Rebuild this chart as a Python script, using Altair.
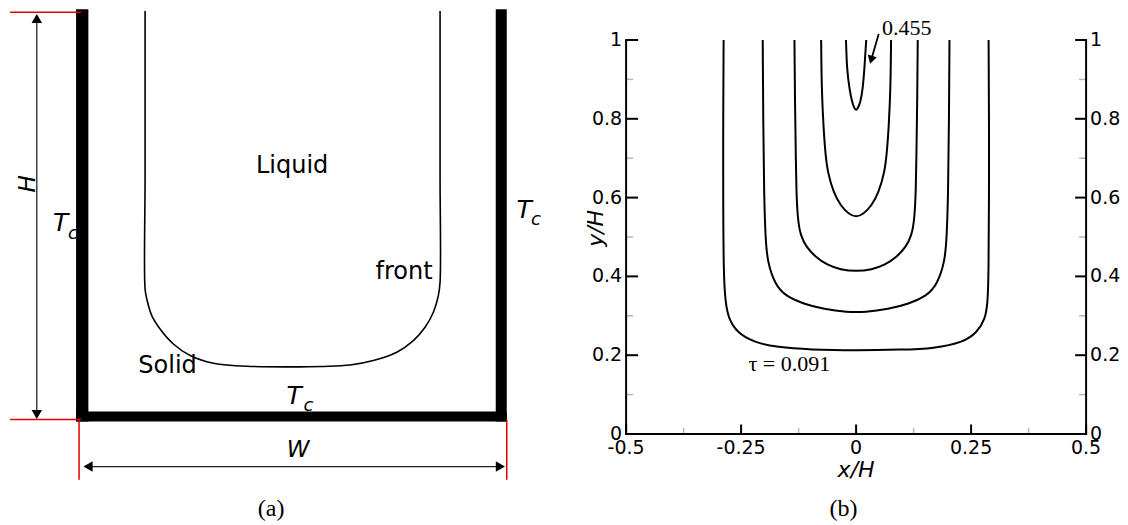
import altair as alt
import pandas as pd

# ===================== Panel (a): schematic (x in units of W, y in units of H) =====================
A_XDOM = [-0.16, 1.12]
A_YDOM = [-0.0336, 0.9321]
A_WIDTH = 548.7
A_HEIGHT = 394

WALL_U0 = [-0.0047, 0.9743, -0.0047]
WALL_U1 = [0.0240, 1.0000, 1.0000]
WALL_V0 = [-0.003, -0.003, -0.003]
WALL_V1 = [1.0074, 1.0074, 0.0213]

RED_U0 = [-0.1586, -0.1586, 0.0023, 1.0]
RED_U1 = [0.007, 0.007, 0.0023, 1.0]
RED_V0 = [1.0, 0.0017, 0.0017, 0.0017]
RED_V1 = [1.0, 0.0017, -0.1458, -0.1458]

H_ARROW_U = [-0.0963, -0.0963]
H_ARROW_V = [0.0142, 0.9848]
W_ARROW_U = [0.0233, 0.9851]
W_ARROW_V = [-0.1135, -0.1135]

FRONT_U = [0.1563, 0.1563, 0.1563, 0.1603, 0.1719, 0.1913, 0.2223, 0.2613, 0.3156, 0.3935,
           0.6345, 0.6888, 0.7434, 0.7821, 0.8094, 0.8288, 0.8404, 0.8444, 0.8444, 0.8444]
FRONT_V = [1.003, 0.60, 0.3218, 0.2973, 0.2566, 0.2238, 0.1870, 0.1586, 0.1397, 0.1324,
           0.1355, 0.1463, 0.1667, 0.1953, 0.2279, 0.2647, 0.3056, 0.3382, 0.60, 1.003]

REGION_TEXT = ["Liquid", "front", "Solid"]
REGION_U = [0.4992, 0.7604, 0.2088]
REGION_V = [0.6225, 0.3627, 0.1324]

TC_TEXT = ["T", "T", "T"]
TC_U = [-0.0405, 1.0407, 0.5042]
TC_V = [0.4830, 0.5160, 0.0590]
SUB_TEXT = ["c", "c", "c"]
SUB_U = [-0.0120, 1.0680, 0.5373]
SUB_V = [0.4554, 0.4897, 0.0339]

W_TEXT = ["W"]
W_U = [0.5132]
W_V = [-0.0720]
H_TEXT = ["H"]
H_U = [-0.1180]
H_V = [0.5792]

CAP_A = ["(a)"]
CAP_A_U = [0.4502]
CAP_A_V = [-0.2181]

# ===================== Panel (b): temperature contours =====================
B_XDOM = [-0.5, 0.5]
B_YDOM = [0.0, 1.0]
B_WIDTH = 460
B_HEIGHT = 394
X_TICKS = [-0.5, -0.25, 0, 0.25, 0.5]
X_MINOR = [-0.375, -0.125, 0.125, 0.375]
Y_TICKS = [0, 0.2, 0.4, 0.6, 0.8, 1]
Y_MINOR = [0.1, 0.3, 0.5, 0.7, 0.9]

FRAME_X0 = [-0.5, 0.5, -0.5]
FRAME_X1 = [-0.5, 0.5, 0.5]
FRAME_Y0 = [0.0, 0.0, 0.0]
FRAME_Y1 = [1.0, 1.0, 0.0]

C1_X = [-0.288, -0.289, -0.289, -0.288, -0.284, -0.277, -0.259, -0.223, -0.172, -0.100, 0.000,
        0.100, 0.169, 0.234, 0.263, 0.281, 0.286, 0.288, 0.289, 0.289, 0.288]
C1_Y = [1.000, 0.800, 0.600, 0.400, 0.334, 0.292, 0.258, 0.233, 0.220, 0.214, 0.212,
        0.214, 0.217, 0.233, 0.258, 0.292, 0.334, 0.400, 0.600, 0.800, 1.000]
C2_X = [-0.203, -0.202, -0.200, -0.197, -0.193, -0.175, -0.154, -0.114, -0.070, -0.020,
        0.020, 0.070, 0.114, 0.154, 0.175, 0.193, 0.197, 0.200, 0.202, 0.203]
C2_Y = [1.000, 0.800, 0.600, 0.500, 0.436, 0.377, 0.351, 0.330, 0.317, 0.309,
        0.309, 0.317, 0.330, 0.351, 0.377, 0.436, 0.500, 0.600, 0.800, 1.000]
C3_X = [-0.134, -0.133, -0.131, -0.130, -0.127, -0.121, -0.108, -0.088, -0.063, -0.034, 0.000,
        0.034, 0.063, 0.088, 0.108, 0.121, 0.127, 0.130, 0.131, 0.133, 0.134]
C3_Y = [1.000, 0.850, 0.700, 0.620, 0.546, 0.504, 0.474, 0.449, 0.429, 0.417, 0.413,
        0.417, 0.429, 0.449, 0.474, 0.504, 0.546, 0.620, 0.700, 0.850, 1.000]
C4_X = [-0.076, -0.075, -0.071, -0.067, -0.062, -0.049, -0.034, -0.016, 0.000,
        0.016, 0.034, 0.049, 0.062, 0.067, 0.071, 0.075, 0.076]
C4_Y = [1.000, 0.880, 0.780, 0.715, 0.664, 0.613, 0.580, 0.558, 0.550,
        0.558, 0.580, 0.613, 0.664, 0.715, 0.780, 0.880, 1.000]
C5_X = [-0.022, -0.020, -0.0145, -0.0087, -0.004, 0.000, 0.004, 0.0094, 0.0145, 0.018, 0.022]
C5_Y = [1.000, 0.926, 0.876, 0.842, 0.827, 0.821, 0.827, 0.842, 0.876, 0.926, 1.000]

NOTE_TEXT = ["0.455", "τ = 0.091"]
NOTE_X = [0.110, -0.145]
NOTE_Y = [1.031, 0.177]
ARROW_X = [0.0491, 0.0340]
ARROW_Y = [1.0152, 0.9540]
HEAD_X = [0.0336]
HEAD_Y = [0.9530]

X_TITLE = ["x/H"]
Y_TITLE = ["y/H"]
Y_TITLE_X = [-0.5646]
Y_TITLE_Y = [0.522]

CAP_B = ["(b)"]
CAP_B_X = [-0.0276]
CAP_B_Y = [-0.191]

SANS = "DejaVu Sans"
SERIF = "Liberation Serif"
RED = "#e00000"
MINOR_GREY = "#b5b5b5"

# ---------------- helpers ----------------
def ax_a(f):
    return alt.X(f, type="quantitative", axis=None,
                 scale=alt.Scale(domain=A_XDOM, nice=False, zero=False))

def ay_a(f):
    return alt.Y(f, type="quantitative", axis=None,
                 scale=alt.Scale(domain=A_YDOM, nice=False, zero=False))

def bx(f):
    return alt.X(f, type="quantitative", axis=None,
                 scale=alt.Scale(domain=B_XDOM, nice=False, zero=False))

def by(f):
    return alt.Y(f, type="quantitative", axis=None,
                 scale=alt.Scale(domain=B_YDOM, nice=False, zero=False))

def fmt(v):
    return f"{v:g}"

# ---------------- panel (a) ----------------
walls = alt.Chart(pd.DataFrame({"u0": WALL_U0, "u1": WALL_U1, "v0": WALL_V0, "v1": WALL_V1})).mark_rect(
    color="black").encode(x=ax_a("u0"), x2="u1", y=ay_a("v0"), y2="v1")

reds = alt.Chart(pd.DataFrame({"u0": RED_U0, "u1": RED_U1, "v0": RED_V0, "v1": RED_V1})).mark_rule(
    color=RED, strokeWidth=1.5).encode(x=ax_a("u0"), x2="u1", y=ay_a("v0"), y2="v1")

h_df = pd.DataFrame({"u": H_ARROW_U, "v": H_ARROW_V})
w_df = pd.DataFrame({"u": W_ARROW_U, "v": W_ARROW_V})
h_line = alt.Chart(h_df).mark_line(color="#222222", strokeWidth=1.3).encode(x=ax_a("u"), y=ay_a("v"))
w_line = alt.Chart(w_df).mark_line(color="#222222", strokeWidth=1.3).encode(x=ax_a("u"), y=ay_a("v"))

def head_a(df, idx, shape):
    return alt.Chart(df.iloc[[idx]]).mark_point(shape=shape, filled=True, size=110, color="black",
                                                opacity=1).encode(x=ax_a("u"), y=ay_a("v"))

heads_a = [head_a(h_df, 0, "triangle-down"), head_a(h_df, 1, "triangle-up"),
           head_a(w_df, 0, "triangle-left"), head_a(w_df, 1, "triangle-right")]

front_df = pd.DataFrame({"u": FRONT_U, "v": FRONT_V, "i": list(range(len(FRONT_U)))})
front = alt.Chart(front_df).mark_line(color="black", strokeWidth=1.6, interpolate="catmull-rom").encode(
    x=ax_a("u"), y=ay_a("v"), order="i:Q")

def text_a(texts, us, vs, **kw):
    df = pd.DataFrame({"t": texts, "u": us, "v": vs})
    return alt.Chart(df).mark_text(align="center", baseline="middle", color="black", **kw).encode(
        x=ax_a("u"), y=ay_a("v"), text="t:N")

regions = text_a(REGION_TEXT, REGION_U, REGION_V, font=SANS, fontSize=24)
tcs = text_a(TC_TEXT, TC_U, TC_V, font=SANS, fontSize=25, fontStyle="italic")
subs = text_a(SUB_TEXT, SUB_U, SUB_V, font=SANS, fontSize=18, fontStyle="italic")
wlab = text_a(W_TEXT, W_U, W_V, font=SANS, fontSize=23, fontStyle="italic")
hlab = text_a(H_TEXT, H_U, H_V, font=SANS, fontSize=23, fontStyle="italic", angle=270)
cap_a = text_a(CAP_A, CAP_A_U, CAP_A_V, font=SERIF, fontSize=24)

panel_a = alt.layer(walls, reds, h_line, w_line, *heads_a, front, regions, tcs, subs, wlab, hlab,
                    cap_a).properties(width=A_WIDTH, height=A_HEIGHT)

# ---------------- panel (b) ----------------
rows = []
for cid, (xs, ys) in enumerate([(C1_X, C1_Y), (C2_X, C2_Y), (C3_X, C3_Y), (C4_X, C4_Y), (C5_X, C5_Y)]):
    for i, (xv, yv) in enumerate(zip(xs, ys)):
        rows.append({"cid": cid, "i": i, "x": xv, "y": yv})
cont_df = pd.DataFrame(rows)

contours = alt.Chart(cont_df).mark_line(color="black", strokeWidth=2, interpolate="basis").encode(
    x=bx("x"), y=by("y"), detail="cid:N", order="i:Q")

frame = alt.Chart(pd.DataFrame({"x0": FRAME_X0, "x1": FRAME_X1, "y0": FRAME_Y0, "y1": FRAME_Y1})).mark_rule(
    color="black", strokeWidth=2, strokeCap="square").encode(x=bx("x0"), x2="x1", y=by("y0"), y2="y1")

# inward ticks (pixel lengths)
yl_major = alt.Chart(pd.DataFrame({"y": Y_TICKS})).mark_rule(color="black", strokeWidth=2).encode(
    y=by("y"), x=alt.value(0), x2=alt.value(12))
yl_minor = alt.Chart(pd.DataFrame({"y": Y_MINOR})).mark_rule(color=MINOR_GREY, strokeWidth=1.5).encode(
    y=by("y"), x=alt.value(0), x2=alt.value(7))
yr_major = alt.Chart(pd.DataFrame({"y": Y_TICKS})).mark_rule(color="black", strokeWidth=2).encode(
    y=by("y"), x=alt.value(B_WIDTH - 11), x2=alt.value(B_WIDTH))
yr_minor = alt.Chart(pd.DataFrame({"y": Y_MINOR})).mark_rule(color=MINOR_GREY, strokeWidth=1.5).encode(
    y=by("y"), x=alt.value(B_WIDTH - 7), x2=alt.value(B_WIDTH))
x_major = alt.Chart(pd.DataFrame({"x": X_TICKS})).mark_rule(color="black", strokeWidth=2).encode(
    x=bx("x"), y=alt.value(B_HEIGHT), y2=alt.value(B_HEIGHT - 9.5))
x_minor = alt.Chart(pd.DataFrame({"x": X_MINOR})).mark_rule(color=MINOR_GREY, strokeWidth=1.5).encode(
    x=bx("x"), y=alt.value(B_HEIGHT), y2=alt.value(B_HEIGHT - 6))

# tick labels
xl_df = pd.DataFrame({"x": X_TICKS, "y": [B_YDOM[0]] * len(X_TICKS), "t": [fmt(v) for v in X_TICKS]})
x_labels = alt.Chart(xl_df).mark_text(font=SANS, fontSize=19, color="black", align="center",
                                      baseline="middle", dy=14).encode(x=bx("x"), y=by("y"), text="t:N")
yl_df = pd.DataFrame({"x": [B_XDOM[0]] * len(Y_TICKS), "y": Y_TICKS, "t": [fmt(v) for v in Y_TICKS]})
yl_labels = alt.Chart(yl_df).mark_text(font=SANS, fontSize=19, color="black", align="right",
                                       baseline="middle", dx=-4).encode(x=bx("x"), y=by("y"), text="t:N")
yr_df = pd.DataFrame({"x": [B_XDOM[1]] * len(Y_TICKS), "y": Y_TICKS, "t": [fmt(v) for v in Y_TICKS]})
yr_labels = alt.Chart(yr_df).mark_text(font=SANS, fontSize=19, color="black", align="left",
                                       baseline="middle", dx=4).encode(x=bx("x"), y=by("y"), text="t:N")

# axis titles
xt_df = pd.DataFrame({"x": [sum(B_XDOM) / 2], "y": [B_YDOM[0]], "t": X_TITLE})
x_title = alt.Chart(xt_df).mark_text(font=SANS, fontSize=22, fontStyle="italic", color="black",
                                     align="center", baseline="middle", dy=36).encode(
    x=bx("x"), y=by("y"), text="t:N")
yt_df = pd.DataFrame({"x": Y_TITLE_X, "y": Y_TITLE_Y, "t": Y_TITLE})
y_title = alt.Chart(yt_df).mark_text(font=SANS, fontSize=22, fontStyle="italic", color="black",
                                     align="center", baseline="middle", angle=270).encode(
    x=bx("x"), y=by("y"), text="t:N")

arrow_line = alt.Chart(pd.DataFrame({"x": ARROW_X, "y": ARROW_Y})).mark_line(
    color="black", strokeWidth=1.8).encode(x=bx("x"), y=by("y"))
arrow_head = alt.Chart(pd.DataFrame({"x": HEAD_X, "y": HEAD_Y})).mark_point(
    shape="triangle", angle=196, size=90, filled=True, color="black", opacity=1).encode(
    x=bx("x"), y=by("y"))

notes = alt.Chart(pd.DataFrame({"t": NOTE_TEXT, "x": NOTE_X, "y": NOTE_Y})).mark_text(
    font=SERIF, fontSize=22, color="black", align="center", baseline="middle").encode(
    x=bx("x"), y=by("y"), text="t:N")
cap_b = alt.Chart(pd.DataFrame({"t": CAP_B, "x": CAP_B_X, "y": CAP_B_Y})).mark_text(
    font=SERIF, fontSize=24, color="black", align="center", baseline="middle").encode(
    x=bx("x"), y=by("y"), text="t:N")

panel_b = alt.layer(contours, yl_minor, yr_minor, x_minor, yl_major, yr_major, x_major, frame,
                    x_labels, yl_labels, yr_labels, x_title, y_title,
                    arrow_line, arrow_head, notes, cap_b).properties(width=B_WIDTH, height=B_HEIGHT)

SPACING = 625.7 - 9.4 - A_WIDTH

chart = alt.hconcat(panel_a, panel_b, spacing=SPACING, bounds="flush").properties(
    padding={"left": 8.5, "top": 7, "right": 0, "bottom": 0},
    background="white",
).configure_view(stroke="transparent")

chart.save("out.html", embed_options={"renderer": "svg", "actions": False})
